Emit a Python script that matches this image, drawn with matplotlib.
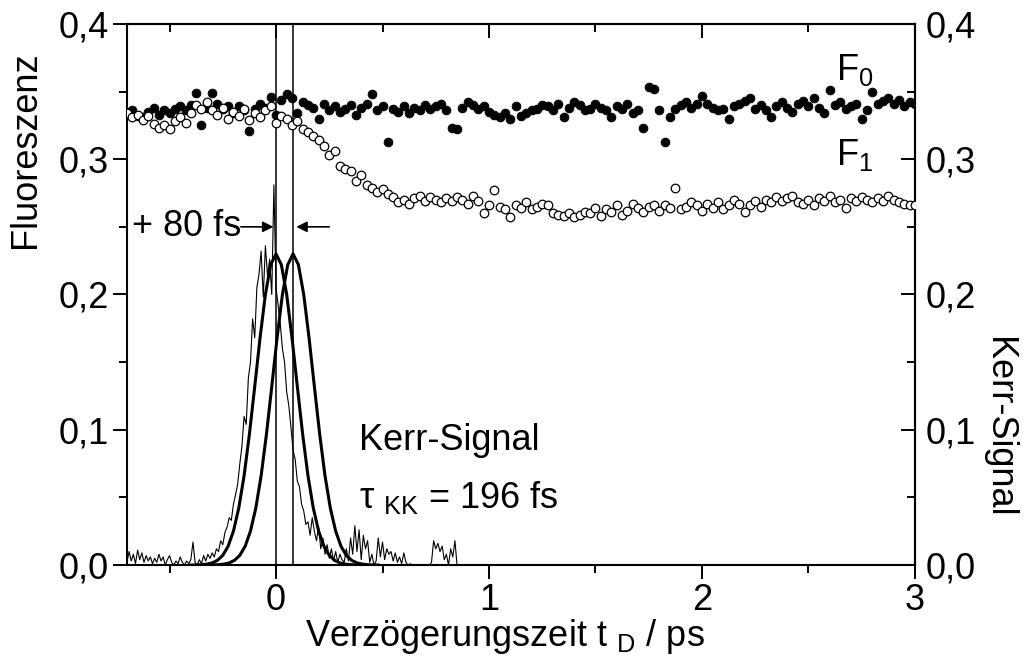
import matplotlib
matplotlib.use('Agg')
import matplotlib.pyplot as plt
from matplotlib.ticker import MultipleLocator, FuncFormatter
import numpy as np

plt.rcParams['font.family'] = ['Liberation Sans', 'DejaVu Sans']
plt.rcParams['mathtext.fontset'] = 'custom'
plt.rcParams['mathtext.rm'] = 'Liberation Sans'
plt.rcParams['mathtext.it'] = 'Liberation Sans'
plt.rcParams['mathtext.bf'] = 'Liberation Sans:bold'

FS = 26

# fluorescence scans, delay grid -0.7 ... 3.0 ps in 25 fs steps
scan_start, scan_step = -0.70, 0.025
f0 = [
    0.334, 0.336, 0.332, 0.331, 0.335, 0.338, 0.333, 0.336, 0.334, 0.337,
    0.339, 0.336, 0.340, 0.349, 0.325, 0.338, 0.349, 0.341, 0.337, 0.339,
    0.334, 0.339, 0.336, 0.321, 0.337, 0.341, 0.338, 0.346, 0.333, 0.344,
    0.348, 0.345, 0.334, 0.342, 0.340, 0.338, 0.330, 0.341, 0.336, 0.339,
    0.335, 0.337, 0.340, 0.333, 0.338, 0.341, 0.348, 0.336, 0.339, 0.313,
    0.337, 0.335, 0.339, 0.334, 0.338, 0.336, 0.340, 0.337, 0.339, 0.341,
    0.336, 0.323, 0.322, 0.338, 0.342, 0.340, 0.337, 0.339, 0.335, 0.333,
    0.331, 0.334, 0.330, 0.339, 0.332, 0.334, 0.336, 0.337, 0.340, 0.339,
    0.336, 0.341, 0.331, 0.338, 0.342, 0.340, 0.336, 0.337, 0.341, 0.338,
    0.336, 0.331, 0.339, 0.337, 0.341, 0.334, 0.336, 0.323, 0.353, 0.352,
    0.336, 0.313, 0.331, 0.337, 0.340, 0.342, 0.338, 0.341, 0.347, 0.341,
    0.338, 0.336, 0.337, 0.330, 0.339, 0.341, 0.343, 0.345, 0.337, 0.340,
    0.336, 0.331, 0.339, 0.342, 0.338, 0.335, 0.341, 0.343, 0.339, 0.345,
    0.338, 0.334, 0.351, 0.340, 0.342, 0.337, 0.339, 0.341, 0.330, 0.336,
    0.350, 0.341, 0.343, 0.345, 0.341, 0.344, 0.339, 0.342, 0.341,
]
f1 = [
    0.334, 0.331, 0.333, 0.329, 0.332, 0.326, 0.323, 0.325, 0.322, 0.328,
    0.331, 0.327, 0.334, 0.340, 0.337, 0.342, 0.336, 0.333, 0.338, 0.330,
    0.335, 0.332, 0.337, 0.329, 0.334, 0.331, 0.336, 0.339, 0.327, 0.332,
    0.330, 0.325, 0.328, 0.322, 0.320, 0.317, 0.314, 0.310, 0.303, 0.306,
    0.295, 0.293, 0.291, 0.284, 0.288, 0.281, 0.279, 0.276, 0.278, 0.274,
    0.272, 0.268, 0.270, 0.267, 0.271, 0.273, 0.269, 0.272, 0.270, 0.268,
    0.271, 0.269, 0.272, 0.270, 0.267, 0.273, 0.269, 0.260, 0.266, 0.277,
    0.265, 0.263, 0.257, 0.266, 0.264, 0.268, 0.263, 0.265, 0.267, 0.266,
    0.260, 0.259, 0.258, 0.260, 0.257, 0.259, 0.261, 0.260, 0.264, 0.258,
    0.263, 0.261, 0.266, 0.259, 0.262, 0.267, 0.264, 0.261, 0.265, 0.266,
    0.262, 0.266, 0.264, 0.279, 0.263, 0.265, 0.268, 0.266, 0.262, 0.267,
    0.264, 0.268, 0.263, 0.266, 0.270, 0.267, 0.261, 0.266, 0.269, 0.265,
    0.270, 0.268, 0.272, 0.269, 0.271, 0.273, 0.268, 0.267, 0.270, 0.266,
    0.271, 0.269, 0.273, 0.268, 0.270, 0.264, 0.271, 0.269, 0.272, 0.270,
    0.268, 0.271, 0.269, 0.273, 0.270, 0.268, 0.267, 0.266, 0.266,
]

# measured Kerr signal, -0.70 ... 0.85 ps in 10 fs steps
kerr_start, kerr_step = -0.70, 0.01
kerr = [
    0.002, 0.010, 0.003, 0.008, 0.001, 0.011, 0.004, 0.009, 0.002, 0.007,
    0.003, 0.006, 0.001, 0.005, 0.002, 0.008, 0.003, 0.006, 0.000, 0.004,
    0.007, 0.002, 0.000, 0.003, 0.001, 0.006, 0.002, 0.000, 0.003, 0.001,
    0.004, 0.017, 0.002, 0.000, 0.004, 0.001, 0.007, 0.003, 0.008, 0.005,
    0.009, 0.006, 0.012, 0.010, 0.018, 0.015, 0.024, 0.028, 0.035, 0.033,
    0.045, 0.052, 0.060, 0.075, 0.088, 0.110, 0.104, 0.138, 0.150, 0.182,
    0.168, 0.205, 0.215, 0.232, 0.198, 0.236, 0.214, 0.226, 0.200, 0.281,
    0.205, 0.192, 0.178, 0.160, 0.150, 0.128, 0.118, 0.102, 0.085, 0.078,
    0.062, 0.058, 0.045, 0.040, 0.030, 0.032, 0.022, 0.035, 0.025, 0.018,
    0.028, 0.012, 0.020, 0.008, 0.015, 0.005, 0.012, 0.003, 0.010, 0.002,
    0.008, 0.004, 0.002, 0.012, 0.003, 0.020, 0.008, 0.029, 0.010, 0.026,
    0.004, 0.022, 0.012, 0.018, 0.002, 0.008, 0.000, 0.003, 0.020, 0.006,
    0.017, 0.004, 0.012, 0.008, 0.010, 0.003, 0.009, 0.002, 0.006, 0.001,
    0.009, 0.002, 0.000, 0.001, 0.000, 0.000, 0.000, 0.000, 0.000, 0.000,
    0.000, 0.000, 0.000, 0.002, 0.018, 0.012, 0.016, 0.010, 0.014, 0.004,
    0.008, 0.000, 0.012, 0.006, 0.018, 0.000,
]

# gaussian fit of the Kerr signal (tau_KK = 196 fs), -0.40 ... 0.40 ps
fit_t = [-0.400, -0.375, -0.350, -0.325, -0.300, -0.275, -0.250, -0.225,
         -0.200, -0.175, -0.150, -0.125, -0.100, -0.075, -0.050, -0.025,
         0.000, 0.025, 0.050, 0.075, 0.100, 0.125, 0.150, 0.175, 0.200,
         0.225, 0.250, 0.275, 0.300, 0.325, 0.350, 0.375, 0.400]
fit = [0.0000, 0.0001, 0.0003, 0.0007, 0.0016, 0.0035, 0.0072, 0.0139,
       0.0251, 0.0421, 0.066, 0.0967, 0.132, 0.168, 0.200, 0.222, 0.230,
       0.222, 0.200, 0.168, 0.132, 0.0967, 0.066, 0.0421, 0.0251, 0.0139,
       0.0072, 0.0035, 0.0016, 0.0007, 0.0003, 0.0001, 0.0000]
shift = 0.08  # ps

t_scan = scan_start + scan_step * np.arange(len(f0))
t_kerr = kerr_start + kerr_step * np.arange(len(kerr))
fit_t = np.array(fit_t)

fig = plt.figure(figsize=(10.28, 6.64), dpi=100)
ax = fig.add_axes([0.1235, 0.149, 0.7665, 0.815])

# Kerr traces and the two reference lines
ax.plot(t_kerr, kerr, color='k', lw=0.8, zorder=2)
ax.plot(fit_t, fit, color='k', lw=2.2, zorder=2)
ax.plot(fit_t + shift, fit, color='k', lw=2.2, zorder=2)
ax.axvline(0, color='k', lw=1.1, zorder=2)
ax.axvline(shift, color='k', lw=1.1, zorder=2)
# F0 filled, F1 open on top
ax.scatter(t_scan, f0, s=40, c='k', edgecolors='k', linewidths=0.6, zorder=3)
ax.scatter(t_scan, f1, s=38, facecolors='white', edgecolors='k', linewidths=0.9, zorder=4)

ax.set_xlim(-0.7, 3.0)
ax.set_ylim(0.0, 0.4)

comma = FuncFormatter(lambda v, p: ('%.1f' % v).replace('.', ','))
ax.xaxis.set_major_locator(MultipleLocator(1))
ax.xaxis.set_minor_locator(MultipleLocator(0.5))
ax.yaxis.set_major_locator(MultipleLocator(0.1))
ax.yaxis.set_minor_locator(MultipleLocator(0.05))
ax.yaxis.set_major_formatter(comma)
ax.xaxis.set_major_formatter(FuncFormatter(lambda v, p: '%d' % round(v)))

for s in ax.spines.values():
    s.set_linewidth(1.5)
ax.tick_params(which='both', direction='out', width=1.4, labelsize=FS, pad=3)
ax.tick_params(which='major', length=10)
ax.tick_params(which='minor', length=6)

# inward ticks on top and right, labels only on the right
top = ax.secondary_xaxis('top')
top.xaxis.set_major_locator(MultipleLocator(1))
top.xaxis.set_minor_locator(MultipleLocator(0.5))
top.tick_params(which='both', direction='in', width=1.4, labeltop=False)
top.tick_params(which='major', length=10)
top.tick_params(which='minor', length=6)
top.spines['top'].set_linewidth(1.5)

right = ax.secondary_yaxis('right')
right.yaxis.set_major_locator(MultipleLocator(0.1))
right.yaxis.set_minor_locator(MultipleLocator(0.05))
right.yaxis.set_major_formatter(comma)
right.tick_params(which='both', direction='in', width=1.4, labelsize=FS, pad=8)
right.tick_params(which='major', length=10)
right.tick_params(which='minor', length=6)
right.spines['right'].set_linewidth(1.5)

# no offset texts anywhere
for a in (ax.xaxis, ax.yaxis, top.xaxis, right.yaxis):
    a.get_offset_text().set_visible(False)

# annotations
ax.text(-0.675, 0.25, '+ 80 fs', fontsize=FS, ha='left', va='center')
arrow = dict(arrowstyle='-|>', color='k', lw=1.2, mutation_scale=16, shrinkA=0, shrinkB=0)
ax.annotate('', xy=(-0.012, 0.25), xytext=(-0.165, 0.25), arrowprops=arrow)
ax.annotate('', xy=(shift + 0.015, 0.25), xytext=(0.25, 0.25), arrowprops=arrow)
ax.text(0.39, 0.092, 'Kerr-Signal', fontsize=FS, ha='left', va='center')
ax.text(0.39, 0.050, r'$\tau\ _\mathrm{KK}$ = 196 fs', fontsize=FS, ha='left', va='center')
ax.text(2.63, 0.366, r'F$_\mathrm{0}$', fontsize=FS, ha='left', va='center')
ax.text(2.63, 0.303, r'F$_\mathrm{1}$', fontsize=FS, ha='left', va='center')

fig.text(26 / 1028, 1 - 150 / 664, 'Fluoreszenz', fontsize=FS, rotation=90, ha='center', va='center')
fig.text(998 / 1028, 1 - 427 / 664, 'Kerr-Signal', fontsize=FS, rotation=270, ha='center', va='center')
fig.text(505 / 1028, 1 - 637 / 664, r'Verzögerungszeit t$\ _\mathrm{D}$ / ps', fontsize=FS, ha='center', va='center')

fig.savefig('out.png', dpi=100)
